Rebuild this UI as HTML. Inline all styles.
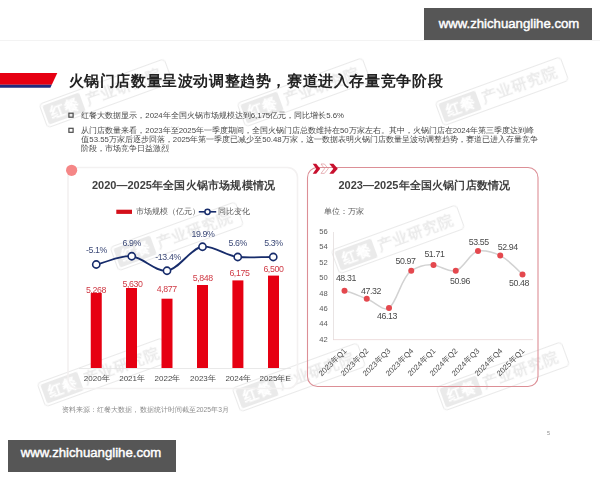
<!DOCTYPE html>
<html lang="zh">
<head>
<meta charset="utf-8">
<title>火锅门店数量呈波动调整趋势</title>
<style>
html,body{margin:0;padding:0;background:#fff;}
body{width:600px;height:480px;position:relative;overflow:hidden;font-family:"Liberation Sans",sans-serif;}
.t{position:absolute;white-space:nowrap;margin:0;padding:0;}
.j{text-align:justify;text-align-last:justify;text-justify:inter-character;}
.banner{position:absolute;width:168px;height:32px;background:#565656;color:#fff;font-weight:normal;font-size:13.2px;line-height:32px;text-align:center;white-space:nowrap;-webkit-text-stroke:0.45px #fff;}
.body{font-size:7.8px;line-height:9px;color:#484848;}
.ptitle{font-size:11px;line-height:14px;font-weight:bold;color:#404040;}
.leg{font-size:7.6px;line-height:10px;color:#595959;}
.pct{font-size:8.8px;letter-spacing:-0.4px;line-height:10px;color:#3d4a78;width:40px;text-align:center;}
.val{font-size:8.8px;letter-spacing:-0.4px;line-height:10px;color:#cf3a45;width:40px;text-align:center;}
.xl{font-size:8px;line-height:10px;color:#4a4a4a;}
.yl{font-size:7.6px;line-height:10px;color:#595959;width:12px;text-align:center;left:317.5px;}
.dl{font-size:8.8px;letter-spacing:-0.4px;line-height:10px;color:#4a4a4a;width:30px;text-align:center;}
.rx{font-size:7.7px;line-height:10px;color:#4a4a4a;width:35.5px;transform-origin:100% 50%;transform:rotate(-45deg);text-align:right;}
.wm{position:absolute;width:134px;height:26px;margin:-13px 0 0 -65px;box-sizing:border-box;border:1px solid #000;border-radius:4px;opacity:.085;white-space:nowrap;color:#000;font-weight:bold;font-size:15px;line-height:24px;transform:rotate(-20deg);transform-origin:65px 13px;overflow:hidden;}
.wm b{position:absolute;left:2px;top:2px;width:39px;height:20px;line-height:20px;background:#000;color:#fff;font-size:15px;text-align:center;border-radius:2px;}
.wm i{position:absolute;left:45px;top:0;width:79px;font-style:normal;text-align:justify;text-align-last:justify;text-justify:inter-character;}
svg{position:absolute;left:0;top:0;}
</style>
</head>
<body>

<!-- watermarks -->
<div class="wm" style="left:104px;top:94px;"><b>红餐</b><i>产业研究院</i></div>
<div class="wm" style="left:302px;top:93px;"><b>红餐</b><i>产业研究院</i></div>
<div class="wm" style="left:500px;top:92px;"><b>红餐</b><i>产业研究院</i></div>
<div class="wm" style="left:175px;top:237px;"><b>红餐</b><i>产业研究院</i></div>
<div class="wm" style="left:396px;top:240px;"><b>红餐</b><i>产业研究院</i></div>
<div class="wm" style="left:102px;top:373px;"><b>红餐</b><i>产业研究院</i></div>
<div class="wm" style="left:297px;top:378px;"><b>红餐</b><i>产业研究院</i></div>
<div class="wm" style="left:501px;top:377px;"><b>红餐</b><i>产业研究院</i></div>

<svg width="600" height="480" viewBox="0 0 600 480">
  <!-- slide top hairline -->
  <rect x="0" y="40" width="600" height="1" fill="#f3f3f3"/>
  <!-- title ribbon -->
  <polygon points="0,73 57.3,73 51.8,84.7 0,84.7" fill="#e60012"/>
  <polygon points="0,84.7 51.8,84.7 50.4,87.8 0,87.8" fill="#1f2a7d"/>
  <!-- bullets -->
  <rect x="68.9" y="113.2" width="4.2" height="4" fill="none" stroke="#4a4a4a" stroke-width="1.2"/>
  <rect x="68.9" y="128.3" width="4.2" height="4" fill="none" stroke="#4a4a4a" stroke-width="1.2"/>

  <!-- left panel -->
  <rect x="68" y="167.5" width="229.5" height="221" rx="10" ry="10" fill="none" stroke="#f3f1f1" stroke-width="1.6"/>
  <circle cx="71.6" cy="170.3" r="5.6" fill="#f58787"/>
  <!-- legend -->
  <rect x="116.3" y="209.7" width="15.7" height="4.2" fill="#d40f1a"/>
  <line x1="198.8" y1="211.8" x2="216.2" y2="211.8" stroke="#172c6b" stroke-width="1.6"/>
  <circle cx="207.5" cy="211.8" r="2.6" fill="#fff" stroke="#172c6b" stroke-width="1.5"/>
  <!-- axis -->
  <rect x="79" y="368" width="212" height="0.8" fill="#e4e4e4"/>
  <!-- bars -->
  <g fill="#e60012">
    <rect x="90.75" y="293" width="11" height="75"/>
    <rect x="126" y="288" width="11" height="80"/>
    <rect x="161.5" y="298.7" width="11" height="69.3"/>
    <rect x="197" y="285" width="11" height="83"/>
    <rect x="232.4" y="280.4" width="11" height="87.6"/>
    <rect x="268" y="275.6" width="11" height="92.4"/>
  </g>
  <!-- yoy line -->
  <path d="M96.25,264.5 C108,262 120,255 131.75,256.25 C143.5,257.5 155,272 167,270.75 C179,269.5 190.5,248 202.5,246.75 C214.5,245.5 226,256 237.75,257 C249.5,258 261.5,257 273.25,257" fill="none" stroke="#172c6b" stroke-width="1.8"/>
  <g fill="#fff" stroke="#172c6b" stroke-width="1.6">
    <circle cx="96.25" cy="264.5" r="3.6"/>
    <circle cx="131.75" cy="256.25" r="3.6"/>
    <circle cx="167" cy="270.75" r="3.6"/>
    <circle cx="202.5" cy="246.75" r="3.6"/>
    <circle cx="237.75" cy="257" r="3.6"/>
    <circle cx="273.25" cy="257" r="3.6"/>
  </g>

  <!-- right panel -->
  <rect x="307.5" y="167.5" width="230.5" height="219" rx="10" ry="10" fill="none" stroke="#dc8f96" stroke-width="1.1"/>
  <!-- chevrons -->
  <polygon points="312.7,163.7 316.2,163.7 320.2,168.7 316.2,173.7 312.7,173.7 316.2,168.7" fill="#c8102e"/>
  <polygon points="321,164 324.4,164 328.2,168.7 324.4,173.4 321,173.4 324.6,168.7" fill="none" stroke="#d9848c" stroke-width="0.6"/>
  <polygon points="329.3,163.7 333.4,163.7 337.8,168.7 333.4,173.7 329.3,173.7 333.3,168.7" fill="#c8102e"/>
  <!-- axes -->
  <rect x="333" y="232" width="0.8" height="108" fill="#e4dede"/>
  <rect x="333" y="339.3" width="200" height="0.8" fill="#ead6d6"/>
  <!-- line -->
  <path d="M344.5,290.8 C352,292.5 359,296 366.75,298.8 C374.5,301.6 383,312 389,308 C397,302.6 401,278 411.25,270.7 C419,266 426,264 433.5,265 C441,266 448.5,272.5 455.75,270.8 C463.5,269 470.5,252 478,250.9 C485.5,250 493,252 500.25,255.6 C508,259.5 515,267 522.5,274.5" fill="none" stroke="#d2d2d2" stroke-width="1.5"/>
  <g fill="#e4484e">
    <circle cx="344.5" cy="290.8" r="3"/>
    <circle cx="366.75" cy="298.8" r="3"/>
    <circle cx="389" cy="308" r="3"/>
    <circle cx="411.25" cy="270.7" r="3"/>
    <circle cx="433.5" cy="265" r="3"/>
    <circle cx="455.75" cy="270.8" r="3"/>
    <circle cx="478" cy="250.9" r="3"/>
    <circle cx="500.25" cy="255.6" r="3"/>
    <circle cx="522.5" cy="274.5" r="3"/>
  </g>
</svg>

<!-- banners -->
<div class="banner" style="left:424px;top:8px;line-height:31.6px;text-indent:2px;">www.zhichuanglihe.com</div>
<div class="banner" style="left:8px;top:440px;line-height:26.8px;text-indent:-2px;">www.zhichuanglihe.com</div>

<!-- title -->
<div class="t j" style="left:68.5px;top:70px;width:374px;font-size:15.4px;line-height:21px;font-weight:bold;color:#222;">火锅门店数量呈波动调整趋势，赛道进入存量竞争阶段</div>

<!-- body text -->
<div class="t j body" style="left:81.3px;top:110.5px;width:258.7px;">红餐大数据显示，2024年全国火锅市场规模达到6,175亿元，同比增长5.6%</div>
<div class="t j body" style="left:81.3px;top:126px;width:451.7px;">从门店数量来看，2023年至2025年一季度期间，全国火锅门店总数维持在50万家左右。其中，火锅门店在2024年第三季度达到峰</div>
<div class="t j body" style="left:81.3px;top:135px;width:451.7px;">值53.55万家后逐步回落，2025年第一季度已减少至50.48万家，这一数据表明火锅门店数量呈波动调整趋势，赛道已进入存量竞争</div>
<div class="t j body" style="left:81.3px;top:144px;width:85.7px;">阶段，市场竞争日益激烈</div>

<!-- left chart text -->
<div class="t j ptitle" style="left:92px;top:178px;width:183px;">2020—2025年全国火锅市场规模情况</div>
<div class="t j leg" style="left:135.5px;top:206.8px;width:58.3px;">市场规模（亿元）</div>
<div class="t j leg" style="left:218px;top:206.8px;width:30.8px;">同比变化</div>

<div class="t pct" style="left:76.4px;top:245px;">-5.1%</div>
<div class="t pct" style="left:111.8px;top:237.5px;">6.9%</div>
<div class="t pct" style="left:148.1px;top:252px;">-13.4%</div>
<div class="t pct" style="left:182.9px;top:228.8px;">19.9%</div>
<div class="t pct" style="left:217.8px;top:238px;">5.6%</div>
<div class="t pct" style="left:253.4px;top:238px;">5.3%</div>

<div class="t val" style="left:76px;top:284.5px;">5,268</div>
<div class="t val" style="left:112.5px;top:279.3px;">5,630</div>
<div class="t val" style="left:146.8px;top:284.3px;">4,877</div>
<div class="t val" style="left:182.8px;top:273px;">5,848</div>
<div class="t val" style="left:219.4px;top:268.3px;">6,175</div>
<div class="t val" style="left:253.4px;top:264.3px;">6,500</div>

<div class="t j xl" style="left:83.8px;top:373.8px;width:24.2px;">2020年</div>
<div class="t j xl" style="left:119.2px;top:373.8px;width:24.2px;">2021年</div>
<div class="t j xl" style="left:154.6px;top:373.8px;width:24.2px;">2022年</div>
<div class="t j xl" style="left:190px;top:373.8px;width:24.2px;">2023年</div>
<div class="t j xl" style="left:225.4px;top:373.8px;width:24.2px;">2024年</div>
<div class="t j xl" style="left:259.6px;top:373.8px;width:27px;">2025年E</div>

<div class="t j" style="left:61.7px;top:404.5px;width:167.3px;font-size:6.7px;line-height:9px;color:#8c8c8c;">资料来源：红餐大数据，数据统计时间截至2025年3月</div>

<!-- right chart text -->
<div class="t j ptitle" style="left:338.5px;top:178px;width:171.5px;">2023—2025年全国火锅门店数情况</div>
<div class="t j leg" style="left:323.5px;top:207px;width:38.3px;">单位：万家</div>

<div class="t yl" style="top:227px;">56</div>
<div class="t yl" style="top:242.4px;">54</div>
<div class="t yl" style="top:257.8px;">52</div>
<div class="t yl" style="top:273.2px;">50</div>
<div class="t yl" style="top:288.6px;">48</div>
<div class="t yl" style="top:304px;">46</div>
<div class="t yl" style="top:319.4px;">44</div>
<div class="t yl" style="top:334.8px;">42</div>

<div class="t dl" style="left:330.9px;top:272.5px;">48.31</div>
<div class="t dl" style="left:356px;top:285.8px;">47.32</div>
<div class="t dl" style="left:372px;top:311.3px;">46.13</div>
<div class="t dl" style="left:390.6px;top:256.3px;">50.97</div>
<div class="t dl" style="left:419.4px;top:248.8px;">51.71</div>
<div class="t dl" style="left:445px;top:275.8px;">50.96</div>
<div class="t dl" style="left:463.8px;top:237px;">53.55</div>
<div class="t dl" style="left:492.8px;top:241.8px;">52.94</div>
<div class="t dl" style="left:504px;top:277.5px;">50.48</div>

<div class="t j rx" style="left:309.80px;top:345px;">2023年Q1</div>
<div class="t j rx" style="left:332.05px;top:345px;">2023年Q2</div>
<div class="t j rx" style="left:354.30px;top:345px;">2023年Q3</div>
<div class="t j rx" style="left:376.55px;top:345px;">2023年Q4</div>
<div class="t j rx" style="left:398.80px;top:345px;">2024年Q1</div>
<div class="t j rx" style="left:421.05px;top:345px;">2024年Q2</div>
<div class="t j rx" style="left:443.30px;top:345px;">2024年Q3</div>
<div class="t j rx" style="left:465.55px;top:345px;">2024年Q4</div>
<div class="t j rx" style="left:487.80px;top:345px;">2025年Q1</div>

<div class="t" style="left:547px;top:430px;font-size:5.5px;line-height:7px;color:#8c8c8c;">5</div>

</body>
</html>
